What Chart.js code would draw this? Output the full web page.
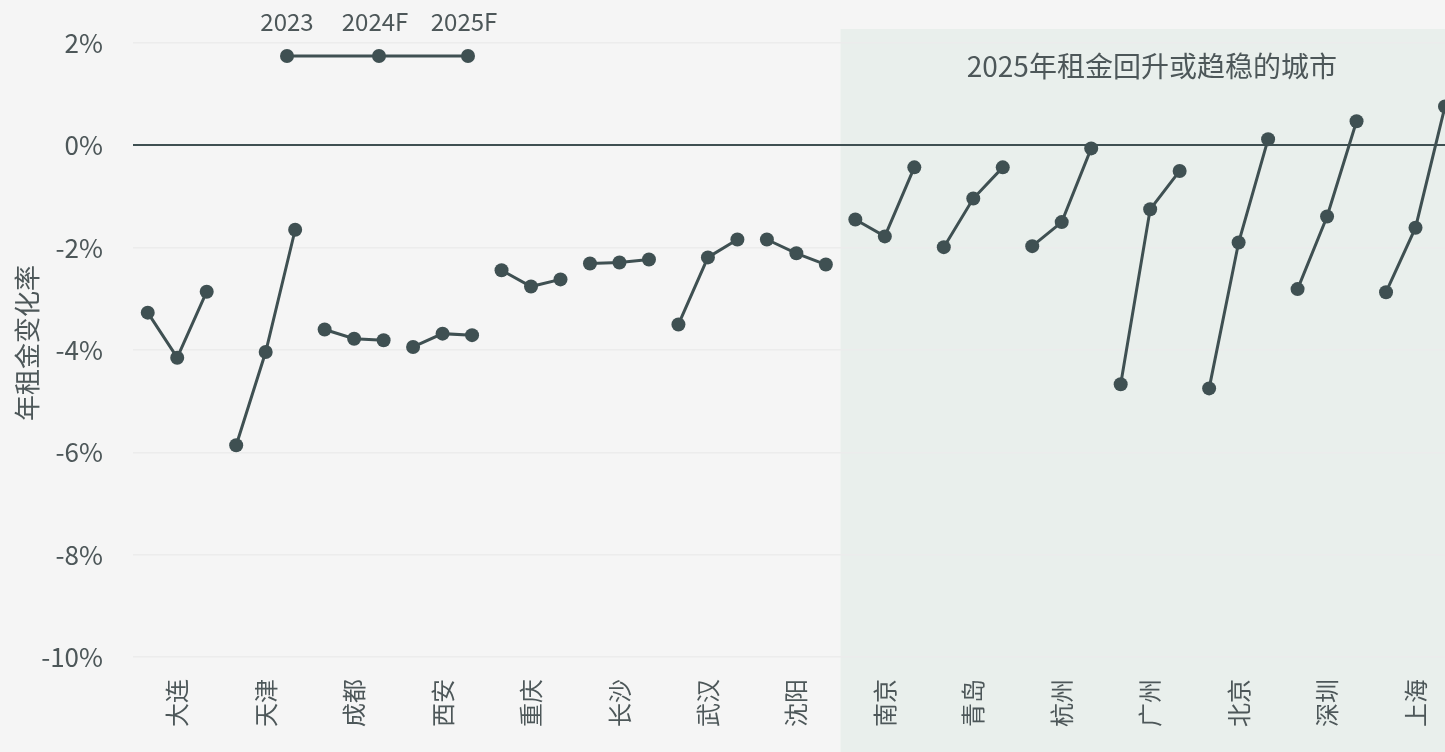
<!DOCTYPE html>
<html><head><meta charset="utf-8">
<script src="https://cdn.jsdelivr.net/npm/chart.js@4/dist/chart.umd.min.js"></script>
<style>
html,body{margin:0;padding:0;background:#f5f5f5;}
#wrap{width:1445px;height:752px;position:relative;}
</style></head>
<body><div id="wrap"><canvas id="c" width="1445" height="752"></canvas></div>
<script>
const cities = ["大连","天津","成都","西安","重庆","长沙","武汉","沈阳","南京","青岛","杭州","广州","北京","深圳","上海"];
const seriesNames = ["2023","2024F","2025F"];
const y2023  = [-3.27,-5.86,-3.60,-3.94,-2.44,-2.31,-3.50,-1.84,-1.45,-1.99,-1.97,-4.67,-4.75,-2.81,-2.87];
const y2024F = [-4.15,-4.04,-3.78,-3.68,-2.76,-2.29,-2.19,-2.11,-1.78,-1.04,-1.50,-1.25,-1.90,-1.39,-1.61];
const y2025F = [-2.86,-1.65,-3.81,-3.71,-2.62,-2.23,-1.84,-2.33,-0.43,-0.43,-0.06,-0.50,0.12,0.47,0.76];
const yTicks = [2,0,-2,-4,-6,-8,-10];
const highlightStart = 8; // 南京 onwards
const highlightText = "2025年租金回升或趋稳的城市";
const axisTitle = "年租金变化率";

const INK = '#3f5052';
const TXT = '#4d5759';
const FONT = "'Noto Sans CJK SC','Noto Sans',sans-serif";

const datasets = cities.map((c,i)=>({
  label:c,
  data:[y2023[i],y2024F[i],y2025F[i]].map((v,j)=>({x:3*i+j,y:v})),
  borderColor:INK, backgroundColor:INK, pointBackgroundColor:INK, pointBorderColor:INK,
  borderWidth:3, pointBorderWidth:0, pointRadius:7, pointHoverRadius:7, tension:0, clip:false
}));

const bgPlugin = {
  id:'bg',
  beforeDraw(chart){
    const {ctx, chartArea, scales} = chart;
    ctx.save();
    ctx.fillStyle='#f5f5f5';
    ctx.fillRect(0,0,chart.width,chart.height);
    const x0 = scales.x.getPixelForValue(3*highlightStart-0.5);
    ctx.fillStyle='#e9efec';
    ctx.fillRect(x0, chartArea.top, chart.width-x0, chart.height-chartArea.top);
    ctx.fillStyle=TXT;
    ctx.font = "28px "+FONT;
    ctx.textAlign='center'; ctx.textBaseline='middle';
    ctx.fillText(highlightText, (x0+chart.width)/2+9, 66);
    ctx.restore();
  },
  afterDraw(chart){
    const {ctx} = chart;
    const xs=[287,379,468], yl=56;
    ctx.save();
    ctx.strokeStyle=INK; ctx.lineWidth=3;
    ctx.beginPath(); ctx.moveTo(xs[0],yl); ctx.lineTo(xs[2],yl); ctx.stroke();
    ctx.fillStyle=INK;
    xs.forEach(x=>{ctx.beginPath(); ctx.arc(x,yl,7,0,Math.PI*2); ctx.fill();});
    ctx.fillStyle=TXT; ctx.font="24px "+FONT; ctx.textAlign='center'; ctx.textBaseline='middle';
    seriesNames.forEach((s,i)=>ctx.fillText(s,xs[i]-(i?4:0),22));
    ctx.restore();
  }
};

new Chart(document.getElementById('c'),{
  type:'line',
  data:{datasets},
  plugins:[bgPlugin],
  options:{
    responsive:false, animation:false, events:[],
    layout:{autoPadding:false,padding:{top:29,right:0,left:0,bottom:0}},
    plugins:{legend:{display:false},tooltip:{enabled:false}},
    scales:{
      x:{type:'linear',min:-0.5,max:44,
        grid:{display:false,drawTicks:false}, border:{display:false},
        afterBuildTicks(s){ s.ticks = cities.map((c,i)=>({value:3*i+1})); },
        afterFit(s){ s.height=95; s.paddingLeft=0; s.paddingRight=0; },
        ticks:{autoSkip:false,minRotation:90,maxRotation:90,padding:22,color:TXT,
          font:{family:FONT,size:24},
          callback(v){ const i=Math.round((v-1)/3); return cities[i]; }}
      },
      y:{type:'linear',min:-10,max:2.274,
        border:{display:false},
        grid:{drawTicks:false,
          color:(ctx)=>ctx.tick && ctx.tick.value===0 ? INK : '#ececec',
          lineWidth:(ctx)=>ctx.tick && ctx.tick.value===0 ? 2 : 1.5},
        afterBuildTicks(s){ s.ticks = yTicks.map(v=>({value:v})); },
        afterFit(s){ s.width=133; s.paddingTop=0; s.paddingBottom=0; },
        title:{display:true,text:axisTitle,color:TXT,font:{family:FONT,size:26},padding:{top:12,bottom:0}},
        ticks:{padding:30,color:TXT,font:{family:FONT,size:26},callback:(v)=>v+'%'}
      }
    }
  }
});
</script></body></html>
